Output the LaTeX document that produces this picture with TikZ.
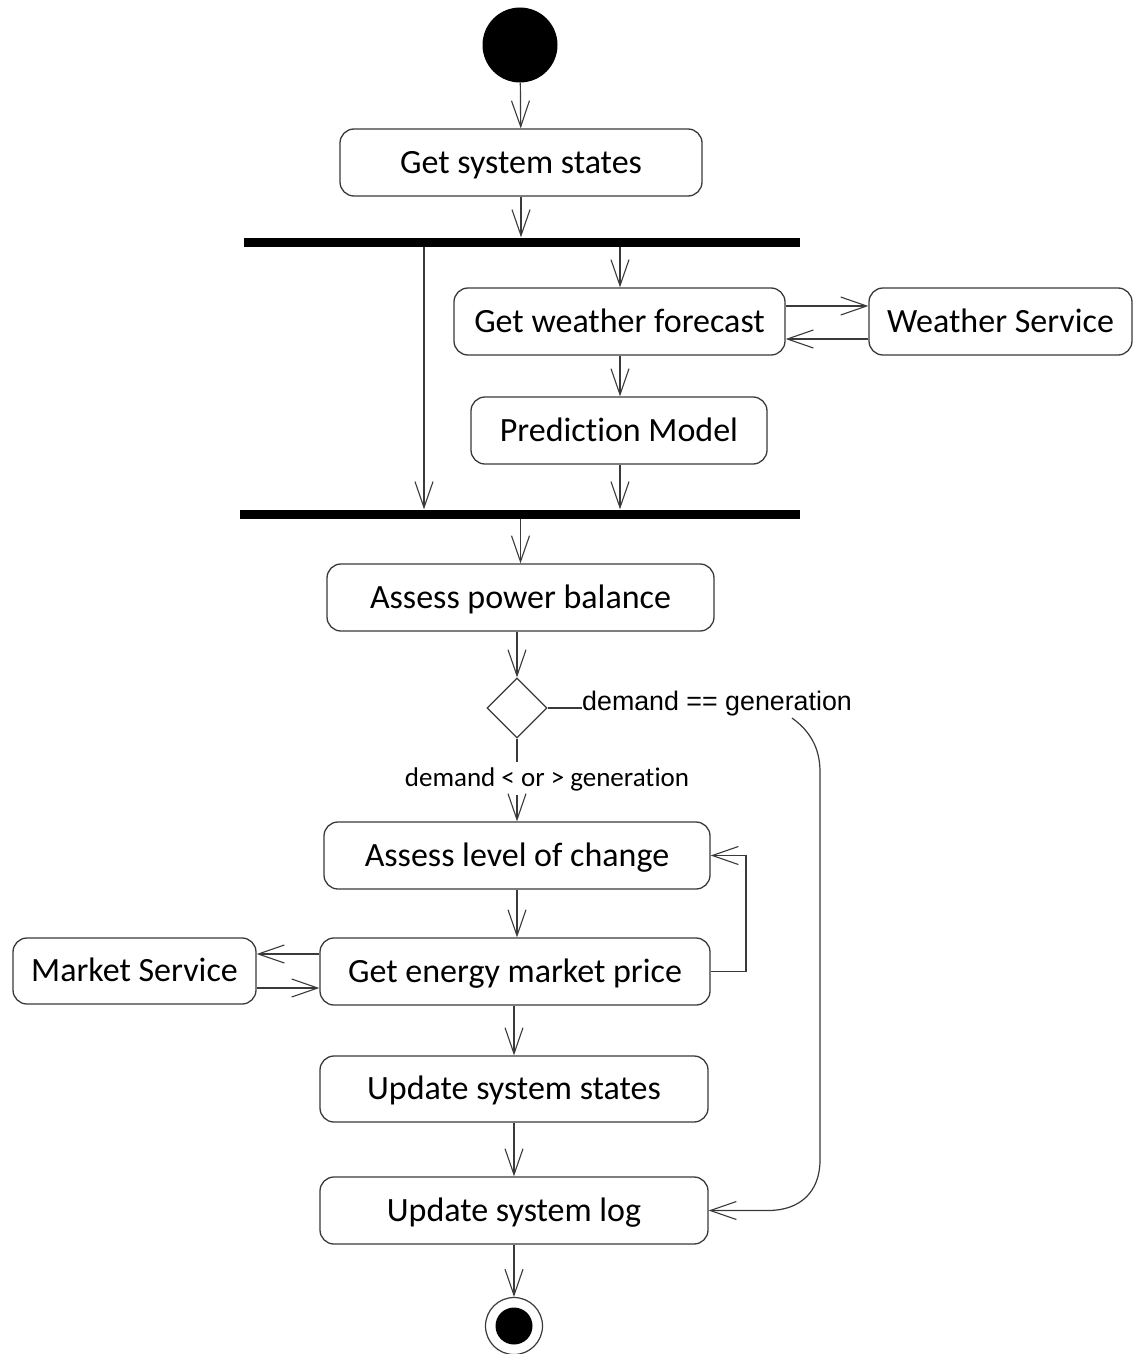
\documentclass[tikz,border=0pt]{standalone}
\usepackage{fontspec}
\setmainfont[Ligatures=CommonOff]{Carlito}
\newfontfamily\arialfont{Liberation Sans}
\usetikzlibrary{arrows.meta,shapes.geometric}
\definecolor{edge}{HTML}{3A3A3A}
\begin{document}
\begin{tikzpicture}[x=1pt,y=-1pt,
  act/.style={draw=edge, line width=1.3pt, rounded corners=14pt, minimum height=67pt,
    inner sep=0pt, text height=23pt, text depth=2pt, align=center,
    font=\fontsize{34}{40}\selectfont},
  bar/.style={fill=black, inner sep=0pt, minimum height=9pt},
  flow/.style={draw=edge, line width=1.2pt, -{Straight Barb[length=26pt,width=18pt,line width=1.1pt]}},
  plain/.style={draw=edge, line width=1.2pt},
  guard/.style={inner sep=0pt, font=\fontsize{27}{30}\selectfont}]
\useasboundingbox (0,0) rectangle (1139,1354);
\fill[white] (0,0) rectangle (1139,1354);

% start and end states
\node[circle, fill=black, minimum size=75pt, inner sep=0pt] (init) at (520,45) {};
\node[circle, draw=edge, line width=1.2pt, minimum size=57pt, inner sep=0pt] (final) at (514,1326) {};
\fill[black] (final.center) circle (18.5pt);

% activities
\node[act, minimum width=362pt] (gss)  at (521,162.5)  {Get system states};
\node[bar, minimum width=556pt] (fork) at (522,242) {};
\node[act, minimum width=331pt] (gwf)  at (619.5,321.5) {Get weather forecast};
\node[act, minimum width=263pt] (ws)   at (1000.5,321.5) {Weather Service};
\node[act, minimum width=296pt] (pm)   at (619,430.5)  {Prediction Model};
\node[bar, minimum width=560pt] (join) at (520,514) {};
\node[act, minimum width=387pt] (apb)  at (520.5,597.5) {Assess power balance};
\node[diamond, draw=edge, line width=1.2pt, minimum width=60pt, minimum height=60pt, inner sep=0pt] (dec) at (517,708) {};
\node[act, minimum width=386pt] (alc)  at (517,855.5)  {Assess level of change};
\node[act, minimum width=390pt] (gemp) at (515,971.5)  {Get energy market price};
\node[act, minimum width=243pt, minimum height=66pt] (ms) at (134.5,971) {Market Service};
\node[act, minimum width=388pt, minimum height=66pt] (uss) at (514,1089) {Update system states};
\node[act, minimum width=388pt] (usl)  at (514,1210.5) {Update system log};

% guard labels
\node[guard, anchor=base west, font=\arialfont\fontsize{26.8}{30}\selectfont] (eq) at (582,710) {demand == generation};
\node[guard] (ne) at (547,779) {demand < or > generation};

% helper coordinates
\coordinate (lx) at (424,0);
\coordinate (cx) at (620,0);
\coordinate (w1) at (0,306);
\coordinate (w2) at (0,339);
\coordinate (m1) at (0,954);
\coordinate (m2) at (0,988);
\coordinate (neTop) at (0,762);
\coordinate (neBot) at (0,795);
\coordinate (cs) at (792,718);
\coordinate (loopx) at (746,0);

% main flow
\draw[flow] (init) -- (gss);
\draw[flow] (gss.south) -- (gss.south |- fork.north);
\draw[flow] (fork.south -| cx) -- (gwf.north -| cx);
\draw[flow] (gwf.south -| cx) -- (pm.north -| cx);
\draw[flow] (fork.south -| lx) -- (join.north -| lx);
\draw[flow] (pm.south -| cx) -- (join.north -| cx);
\draw[flow] (join.south -| apb.north) -- (apb.north);
\draw[flow] (apb.south -| dec.north) -- (dec.north);

% weather service exchange
\draw[flow] (gwf.east |- w1) -- (ws.west |- w1);
\draw[flow] (ws.west |- w2) -- (gwf.east |- w2);

% decision branches
\draw[plain] (dec.east) -- (dec.east -| eq.west);
\draw[plain] (dec.south) -- (dec.south |- neTop);
\draw[flow] (dec.south |- neBot) -- (alc.north);
\draw[flow] (cs) .. controls (810,731) and (820,748) .. (820,772)
  -- (820,1160) .. controls (820,1192) and (800,1210.5) .. (768,1210.5) -- (usl.east);

% lower flow
\draw[flow] (alc.south) -- (alc.south |- gemp.north);
\draw[flow] (gemp.east) -- (gemp.east -| loopx) |- (alc.east);
\draw[flow] (gemp.west |- m1) -- (ms.east |- m1);
\draw[flow] (ms.east |- m2) -- (gemp.west |- m2);
\draw[flow] (gemp.south -| uss.north) -- (uss.north);
\draw[flow] (uss.south) -- (usl.north);
\draw[flow] (usl.south) -- (final.north);
\end{tikzpicture}
\end{document}
